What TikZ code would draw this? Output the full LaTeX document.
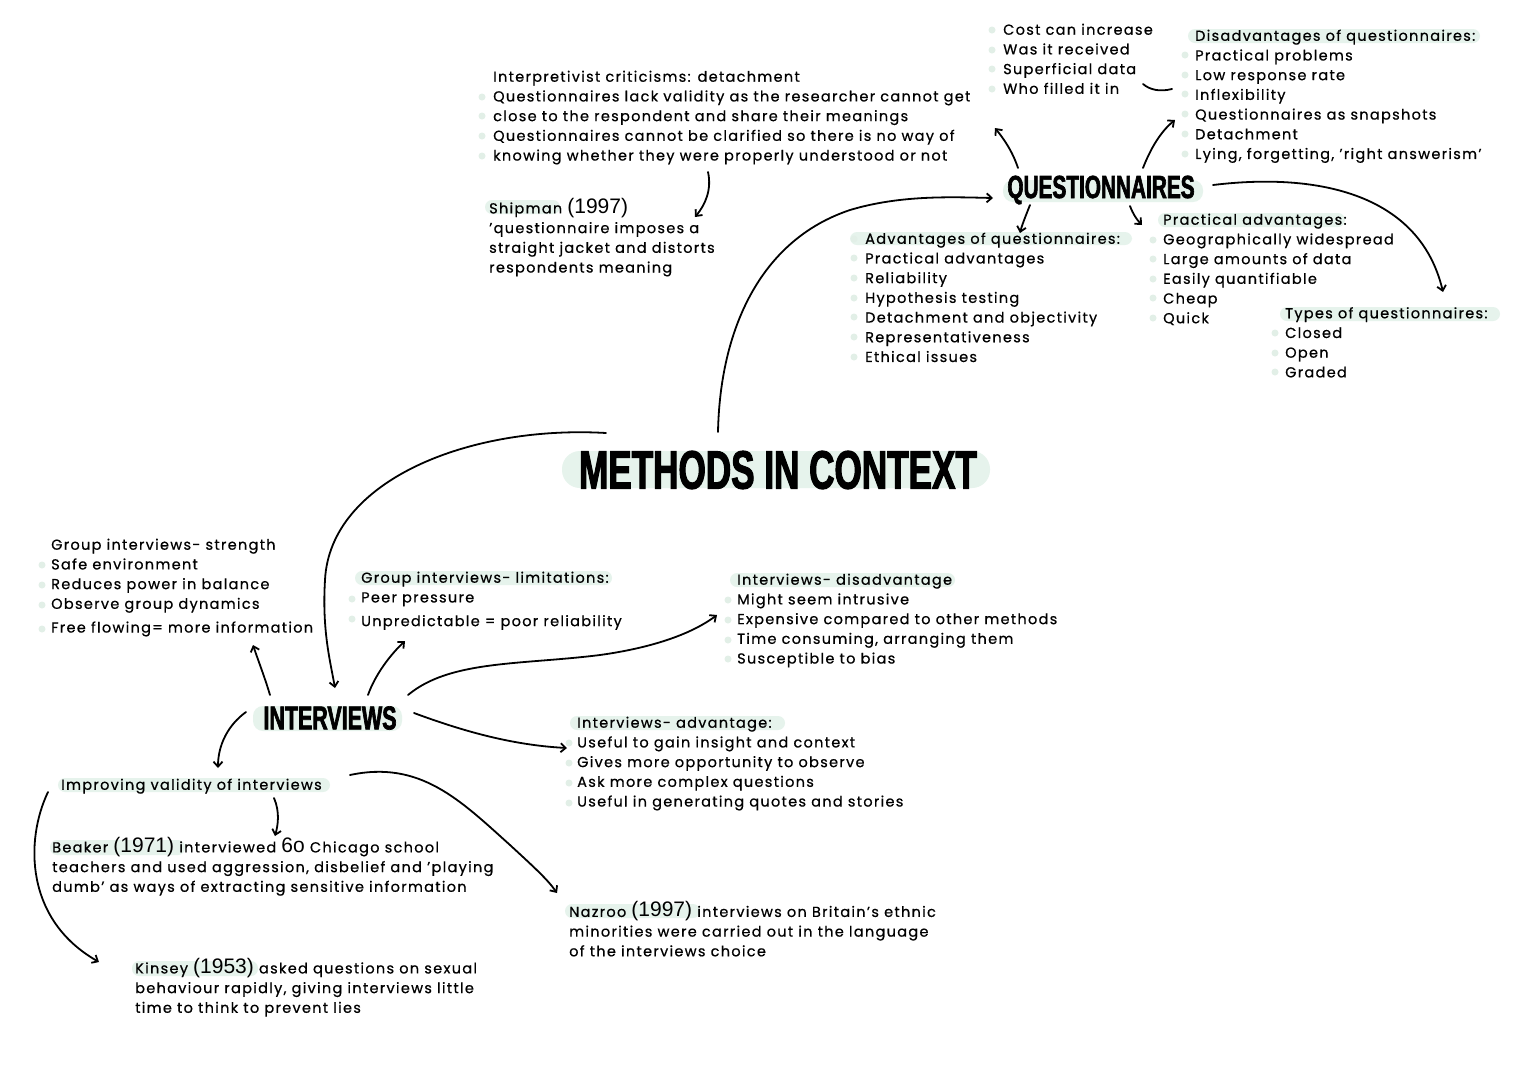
\documentclass[tikz,border=0pt]{standalone}
\usepackage{fontspec}
\setmainfont{Poppins}[LetterSpace=9,FakeBold=0.6]
\newfontfamily\headfont{Liberation Sans}[FakeStretch=0.65,FakeBold=2]
\newfontfamily\yearfont{Liberation Sans}
\usetikzlibrary{arrows.meta}
\definecolor{hl}{HTML}{E6F3EC}
\definecolor{dotc}{HTML}{E2EFE7}
\newcommand\yr[1]{{\yearfont\fontsize{21}{19}\selectfont #1}}
\tikzset{
  blk/.style={anchor=north west, inner sep=0pt, align=left, font=\fontsize{14.5}{19.7}\selectfont},
  head/.style={inner sep=0pt, font=\headfont\bfseries},
  conn/.style={line width=1.8pt, line cap=round, -{Straight Barb[length=5pt,width=9pt]}},
  plain/.style={line width=1.8pt, line cap=round},
  hlbox/.style={fill=hl, rounded corners=7pt},
  dot/.style={fill=dotc}
}
\begin{document}
\begin{tikzpicture}[x=1pt,y=-1pt]
\useasboundingbox (0,0) rectangle (1527,1080);
\fill[white] (0,0) rectangle (1527,1080);

% highlights
\fill[hlbox, rounded corners=18pt] (562,451) rectangle (990,488);
\fill[hlbox, rounded corners=10pt] (1003,180) rectangle (1203,202);
\fill[hlbox, rounded corners=10pt] (253,706) rectangle (402,731);
\fill[hlbox] (1188,29) rectangle (1480,43);
\fill[hlbox] (850,232) rectangle (1132,245);
\fill[hlbox] (1158,213) rectangle (1345,227);
\fill[hlbox] (1280,307) rectangle (1500,321);
\fill[hlbox] (485,200) rectangle (560,214);
\fill[hlbox] (730,573) rectangle (955,587);
\fill[hlbox] (570,716) rectangle (785,730);
\fill[hlbox] (58,778) rectangle (330,792);
\fill[hlbox] (50,840) rectangle (185,855);
\fill[hlbox] (132,961) rectangle (258,976);
\fill[hlbox] (565,904) rectangle (700,918);
\fill[hlbox] (355,571) rectangle (612,585);

% bullets
\foreach \x/\y in {482/97,482/116,482/136,482/156,
  992/30,992/50,992/69,992/89,
  1185/55,1185/75,1185/94,1185/114,1185/134,1185/154,
  854/239,854/258,854/278,854/298,854/317,854/337,854/357,
  1153/240,1153/259,1153/279,1153/298,1153/318,
  1275/333,1275/353,1275/372,
  42/565,42/585,42/605,42/629,
  352/599,352/619,
  728/600,728/620,728/640,728/659,
  569/743,569/763,569/783,569/803}
  \fill[dot] (\x,\y) circle (3.5);

% headings
\node[head, font=\headfont\bfseries\fontsize{54}{54}\selectfont] (title) at (778,470) {METHODS IN CONTEXT};
\node[head, font=\headfont\bfseries\fontsize{32}{32}\selectfont] (quest) at (1101,190) {QUESTIONNAIRES};
\node[head, font=\headfont\bfseries\fontsize{33}{33}\selectfont] (interv) at (330,718) {INTERVIEWS};

% text blocks
\node[blk] (interp) at (493,70.5) {Interpretivist criticisms: detachment\\
Questionnaires lack validity as the researcher cannot get\\
close to the respondent and share their meanings\\
Questionnaires cannot be clarified so there is no way of\\
knowing whether they were properly understood or not};

\node[blk] (ship) at (489,198) {Shipman \yr{(1997)}\\
'questionnaire imposes a\\
straight jacket and distorts\\
respondents meaning};

\node[blk] (cost) at (1003,23.5) {Cost can increase\\
Was it received\\
Superficial data\\
Who filled it in};

\node[blk] (disq) at (1195,29.5) {Disadvantages of questionnaires:\\
Practical problems\\
Low response rate\\
Inflexibility\\
Questionnaires as snapshots\\
Detachment\\
Lying, forgetting, 'right answerism'};

\node[blk] (advq) at (865,232.5) {Advantages of questionnaires:\\
Practical advantages\\
Reliability\\
Hypothesis testing\\
Detachment and objectivity\\
Representativeness\\
Ethical issues};

\node[blk] (prac) at (1163,213.5) {Practical advantages:\\
Geographically widespread\\
Large amounts of data\\
Easily quantifiable\\
Cheap\\
Quick};

\node[blk] (types) at (1285,307) {Types of questionnaires:\\
Closed\\
Open\\
Graded};

\node[blk] (gstr) at (51,538.5) {Group interviews- strength\\
Safe environment\\
Reduces power in balance\\
Observe group dynamics\\[4pt]
Free flowing= more information};

\node[blk] (glim) at (361,571.5) {Group interviews- limitations:\\
Peer pressure\\[4pt]
Unpredictable = poor reliability};

\node[blk] (idis) at (737,573.5) {Interviews- disadvantage\\
Might seem intrusive\\
Expensive compared to other methods\\
Time consuming, arranging them\\
Susceptible to bias};

\node[blk] (iadv) at (577,716.5) {Interviews- advantage:\\
Useful to gain insight and context\\
Gives more opportunity to observe\\
Ask more complex questions\\
Useful in generating quotes and stories};

\node[blk] (impv) at (61,778.5) {Improving validity of interviews};

\node[blk] (beak) at (52,837) {Beaker \yr{(1971)} interviewed \yr{6o} Chicago school\\
teachers and used aggression, disbelief and 'playing\\
dumb' as ways of extracting sensitive information};

\node[blk] (kins) at (135,958) {Kinsey \yr{(1953)} asked questions on sexual\\
behaviour rapidly, giving interviews little\\
time to think to prevent lies};

\node[blk] (nazr) at (569,901.5) {Nazroo \yr{(1997)} interviews on Britain's ethnic\\
minorities were carried out in the language\\
of the interviews choice};

% connector end points
\coordinate (c1s) at (606,433); \coordinate (c1e) at (335,688);
\coordinate (c2s) at (718,432); \coordinate (c2e) at (993,198);
\coordinate (c3s) at (1018,168); \coordinate (c3e) at (995,128);
\coordinate (c4s) at (1143,168); \coordinate (c4e) at (1175,120);
\coordinate (c5s) at (1172,89); \coordinate (c5e) at (1143,84);
\coordinate (c6s) at (1030,205); \coordinate (c6e) at (1020,233);
\coordinate (c7s) at (1130,206); \coordinate (c7e) at (1142,225);
\coordinate (c8s) at (1213,185); \coordinate (c8e) at (1443,292);
\coordinate (c9s) at (708,172); \coordinate (c9e) at (695,217);
\coordinate (c10s) at (270,695); \coordinate (c10e) at (253,645);
\coordinate (c11s) at (368,695); \coordinate (c11e) at (405,641);
\coordinate (c12s) at (408,695); \coordinate (c12e) at (717,615);
\coordinate (c13s) at (414,713); \coordinate (c13e) at (567,748);
\coordinate (c14s) at (246,712); \coordinate (c14e) at (218,768);
\coordinate (c15s) at (274,798); \coordinate (c15e) at (275,836);
\coordinate (c16s) at (350,775); \coordinate (c16e) at (557,893);
\coordinate (c17s) at (48,792); \coordinate (c17e) at (99,962);

\draw[conn] (c1s) .. controls (470,425) and (330,480) .. (325,580) .. controls (322,630) and (330,660) .. (c1e);
\draw[conn] (c2s) .. controls (720,330) and (760,240) .. (850,210) .. controls (900,195) and (950,197) .. (c2e);
\draw[conn] (c3s) .. controls (1012,150) and (1003,138) .. (c3e);
\draw[conn] (c4s) .. controls (1150,150) and (1160,132) .. (c4e);
\draw[plain] (c5s) .. controls (1160,92) and (1150,90) .. (c5e);
\draw[conn] (c6s) .. controls (1026,215) and (1022,225) .. (c6e);
\draw[conn] (c7s) .. controls (1133,214) and (1137,220) .. (c7e);
\draw[conn] (c8s) .. controls (1320,172) and (1420,195) .. (c8e);
\draw[conn] (c9s) .. controls (712,190) and (705,205) .. (c9e);
\draw[conn] (c10s) .. controls (265,678) and (258,660) .. (c10e);
\draw[conn] (c11s) .. controls (375,675) and (390,655) .. (c11e);
\draw[conn] (c12s) .. controls (450,660) and (520,665) .. (600,655) .. controls (650,648) and (690,635) .. (c12e);
\draw[conn] (c13s) .. controls (460,730) and (510,745) .. (c13e);
\draw[conn] (c14s) .. controls (228,725) and (218,745) .. (c14e);
\draw[conn] (c15s) .. controls (280,812) and (278,825) .. (c15e);
\draw[conn] (c16s) .. controls (420,760) and (460,800) .. (510,845) .. controls (535,868) and (548,880) .. (c16e);
\draw[conn] (c17s) .. controls (25,840) and (25,920) .. (c17e);
\end{tikzpicture}
\end{document}
